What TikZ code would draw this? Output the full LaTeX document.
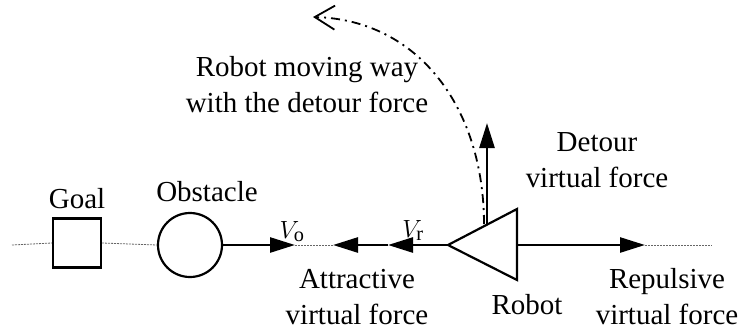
\documentclass[tikz,border=0pt]{standalone}
\usepackage{fontspec}
\setmainfont{Liberation Serif}
\usetikzlibrary{arrows.meta}
\begin{document}
\begin{tikzpicture}[x=1pt,y=-1pt,
  lbl/.style={font=\fontsize{29}{36}\selectfont, inner sep=0pt, anchor=base, align=center},
  thin dot/.style={line width=0.8pt, draw=black!60, dash pattern=on 2pt off 1pt},
  force/.style={line width=2.6pt, -{Triangle[length=25pt,width=15pt]}},
  shp/.style={line width=2.2pt, draw=black}]
\useasboundingbox (0,0) rectangle (748,330);
% shapes
\node[shp, minimum width=48pt, minimum height=49pt, inner sep=0pt] (goal) at (77,243) {};
\node[shp, circle, minimum size=64pt, inner sep=0pt] (obs) at (190,245) {};
\coordinate (rtip) at (448,245);
\coordinate (rtop) at (517,209);
\coordinate (rbot) at (517,280);
\coordinate (rmid) at (517,245);
\draw[shp, line join=miter] (rtip) -- (rtop) -- (rbot) -- cycle;
% free ends
\coordinate (lend) at (12,245);
\coordinate (vo) at (295,245);
\coordinate (att) at (333,245);
\coordinate (vr) at (388,245);
\coordinate (rep) at (645,245);
\coordinate (rend) at (712,245);
\coordinate (dbase) at (487,224);
\coordinate (dtip) at (487,123);
\coordinate (cstart) at (484,224);
\coordinate (cend) at (313,17);
% dotted axis
\draw[thin dot] (lend) -- (goal.west);
\draw[thin dot] (goal.east) -- (obs.west);
\draw[thin dot] (vo) -- (att);
\draw[thin dot] (rep) -- (rend);
% forces
\draw[force] (obs.east) -- (vo);
\draw[force] (rtip) -- (vr);
\draw[force] (vr) -- (att);
\draw[force] (rmid) -- (rep);
\draw[force] (dbase) -- (dtip);
% moving way
\draw[line width=1.8pt, dash pattern=on 9pt off 5pt on 2pt off 5pt,
  -{Straight Barb[length=20pt,width=24pt,line width=1.8pt]}]
  (cstart) .. controls (484,110) and (420,20) .. (cend);
% labels
\node[lbl] (tgoal) at (77,208) {Goal};
\node[lbl] (tobs) at (207,201) {Obstacle};
\node[lbl] (tvo) at (292,238) {$V_{\mathrm{o}}$};
\node[lbl] (tvr) at (413,237) {$V_{\mathrm{r}}$};
\node[lbl] (tatt) at (357,324) {Attractive\\virtual force};
\node[lbl] (trob) at (527,314) {Robot};
\node[lbl] (trep) at (667,324) {Repulsive\\virtual force};
\node[lbl] (tdet) at (597,187) {Detour\\virtual force};
\node[lbl] (tway) at (307,112) {Robot moving way\\with the detour force};
\end{tikzpicture}
\end{document}
